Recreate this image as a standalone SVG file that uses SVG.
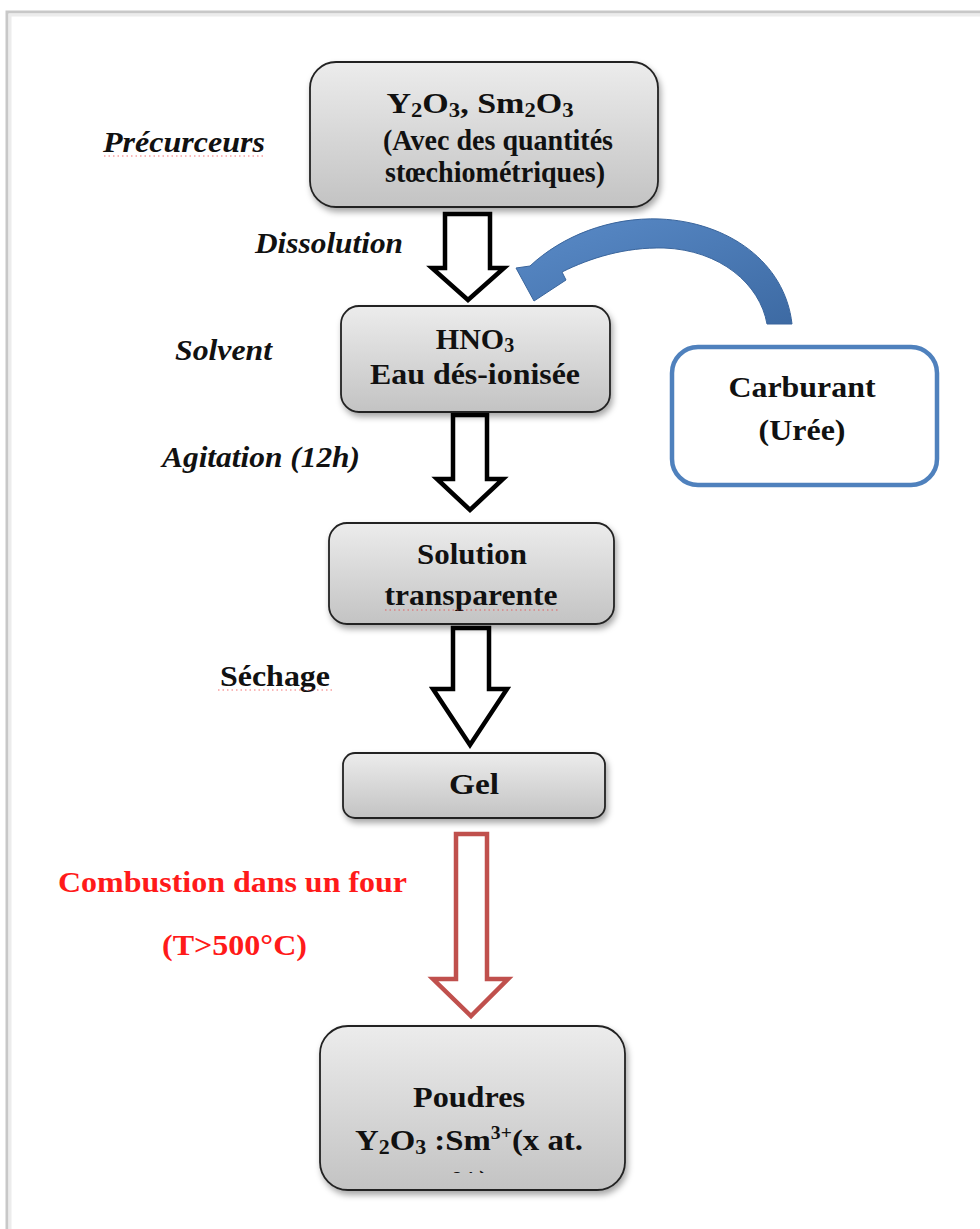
<svg xmlns="http://www.w3.org/2000/svg" width="980" height="1229" viewBox="0 0 980 1229">
  <defs>
    <linearGradient id="boxFill" x1="0" y1="0" x2="0" y2="1">
      <stop offset="0" stop-color="#ececec"/>
      <stop offset="1" stop-color="#c3c3c3"/>
    </linearGradient>
    <linearGradient id="blueFill" x1="0" y1="0" x2="1" y2="1">
      <stop offset="0" stop-color="#5a8bc8"/>
      <stop offset="1" stop-color="#3d6aa3"/>
    </linearGradient>
    <filter id="shadow" x="-10%" y="-10%" width="125%" height="135%">
      <feDropShadow dx="2" dy="4" stdDeviation="3" flood-color="#000" flood-opacity="0.35"/>
    </filter>
    <clipPath id="clipPoudres">
      <rect x="320" y="1026" width="305" height="147"/>
    </clipPath>
    <style>
      .box { fill: url(#boxFill); stroke: #222; stroke-width: 1.8; filter: url(#shadow); }
      .boxText { font-family: "Liberation Serif", "Times New Roman", serif; font-weight: bold; font-size: 30px; fill: #111; text-anchor: middle; }
      .label { font-family: "Liberation Serif", "Times New Roman", serif; font-weight: bold; font-style: italic; font-size: 29px; fill: #111; }
      .plain { font-family: "Liberation Serif", "Times New Roman", serif; font-weight: bold; font-size: 29px; fill: #111; }
      .red { font-family: "Liberation Serif", "Times New Roman", serif; font-weight: bold; font-size: 30px; fill: #ff1a1a; }
      .blockArrow { fill: #fff; stroke: #000; stroke-width: 4.5; stroke-linejoin: miter; }
      .redArrow { fill: #fff; stroke: #c0504d; stroke-width: 4.5; stroke-linejoin: miter; }
      .squiggle { stroke: #e33; stroke-width: 1.2; stroke-dasharray: 1.5 3; fill: none; opacity: 0.7; }
      .sub { font-size: 20px; }
    </style>
  </defs>

  <rect width="980" height="1229" fill="#fff"/>

  <!-- page frame -->
  <g id="page-frame" fill="none">
    <path d="M 7 1229 L 7 12 L 980 12" stroke="#c8c8c8" stroke-width="3"/>
    <path d="M 10 1229 L 10 15 L 980 15" stroke="#ececec" stroke-width="3"/>
  </g>

  <!-- side labels -->
  <g id="labels">
    <text class="label" x="103" y="152" textLength="162" lengthAdjust="spacingAndGlyphs">Précurceurs</text>
    <path class="squiggle" d="M 104 156 L 265 156"/>
    <text class="label" x="255" y="253" textLength="148" lengthAdjust="spacingAndGlyphs">Dissolution</text>
    <text class="label" x="175" y="360" textLength="97" lengthAdjust="spacingAndGlyphs">Solvent</text>
    <text class="label" x="162" y="467" textLength="198" lengthAdjust="spacingAndGlyphs">Agitation (12h)</text>
    <text class="plain" x="220" y="686" textLength="110" lengthAdjust="spacingAndGlyphs">Séchage</text>
    <path class="squiggle" d="M 218 690 L 332 690"/>
    <text class="red" x="58" y="892" textLength="349" lengthAdjust="spacingAndGlyphs">Combustion dans un four</text>
    <text class="red" x="162" y="955" textLength="145" lengthAdjust="spacingAndGlyphs">(T&gt;500°C)</text>
  </g>

  <!-- connectors -->
  <g id="connectors">
    <path class="blockArrow" d="M 445 214 L 490 214 L 490 268 L 504 268 L 468 300 L 432 268 L 445 268 Z"/>
    <path class="blockArrow" d="M 453 415 L 487 415 L 487 479 L 503 479 L 470 510 L 437 479 L 453 479 Z"/>
    <path class="blockArrow" d="M 453 628 L 489 628 L 489 689 L 507 689 L 470 745 L 433 689 L 453 689 Z"/>
    <path class="redArrow" d="M 456 834 L 487 834 L 487 979 L 508 979 L 471 1016 L 433 979 L 456 979 Z"/>
    <!-- curved fuel arrow from the Carburant box into the solvent -->
    <path fill="url(#blueFill)" stroke="#3a659c" stroke-width="1" d="M 530 266 C 562 236, 610 217, 660 219 C 728 222, 785 262, 792 324 L 767 324 C 760 284, 720 250, 664 248 C 625 247, 590 258, 562 272 L 566 280 L 534 301 L 516 268 Z"/>
  </g>

  <!-- nodes -->
  <g id="node-precurseurs">
    <rect class="box" x="310" y="62" width="348" height="145" rx="26"/>
    <text class="boxText" x="480" y="113" textLength="187" lengthAdjust="spacingAndGlyphs">Y<tspan class="sub" dy="4">2</tspan><tspan dy="-4">O</tspan><tspan class="sub" dy="4">3</tspan><tspan dy="-4">, Sm</tspan><tspan class="sub" dy="4">2</tspan><tspan dy="-4">O</tspan><tspan class="sub" dy="4">3</tspan></text>
    <text class="boxText" x="498" y="150" textLength="230" lengthAdjust="spacingAndGlyphs">(Avec des quantités</text>
    <text class="boxText" x="495" y="182" textLength="220" lengthAdjust="spacingAndGlyphs">stœchiométriques)</text>
  </g>

  <g id="node-solvent">
    <rect class="box" x="341" y="306" width="269" height="106" rx="18"/>
    <text class="boxText" x="475" y="349">HNO<tspan class="sub" dy="3">3</tspan></text>
    <text class="boxText" x="475" y="384" textLength="210" lengthAdjust="spacingAndGlyphs">Eau dés-ionisée</text>
  </g>

  <g id="node-solution">
    <rect class="box" x="329" y="523" width="285" height="101" rx="18"/>
    <text class="boxText" x="472" y="564" textLength="110" lengthAdjust="spacingAndGlyphs">Solution</text>
    <text class="boxText" x="471" y="605" textLength="173" lengthAdjust="spacingAndGlyphs">transparente</text>
    <path class="squiggle" d="M 385 610 L 560 610"/>
  </g>

  <g id="node-gel">
    <rect class="box" x="343" y="753" width="262" height="65" rx="12"/>
    <text class="boxText" x="474" y="794" textLength="50" lengthAdjust="spacingAndGlyphs">Gel</text>
  </g>

  <g id="node-poudres">
    <rect class="box" x="320" y="1026" width="305" height="164" rx="28"/>
    <text class="boxText" x="469" y="1107" textLength="112" lengthAdjust="spacingAndGlyphs">Poudres</text>
    <text class="boxText" x="469" y="1150" textLength="228" lengthAdjust="spacingAndGlyphs">Y<tspan class="sub" dy="4">2</tspan><tspan dy="-4">O</tspan><tspan class="sub" dy="4">3</tspan><tspan dy="-4"> :Sm</tspan><tspan font-size="18px" dy="-11">3+</tspan><tspan dy="11">(x at.</tspan></text>
    <text class="boxText" x="469" y="1191" clip-path="url(#clipPoudres)">%)</text>
  </g>

  <g id="node-carburant">
    <rect x="672" y="347" width="265" height="138" rx="26" fill="#fff" stroke="#4f81bd" stroke-width="4.5"/>
    <text class="boxText" x="802" y="397" textLength="147" lengthAdjust="spacingAndGlyphs">Carburant</text>
    <text class="boxText" x="802" y="440" textLength="87" lengthAdjust="spacingAndGlyphs">(Urée)</text>
  </g>
</svg>
